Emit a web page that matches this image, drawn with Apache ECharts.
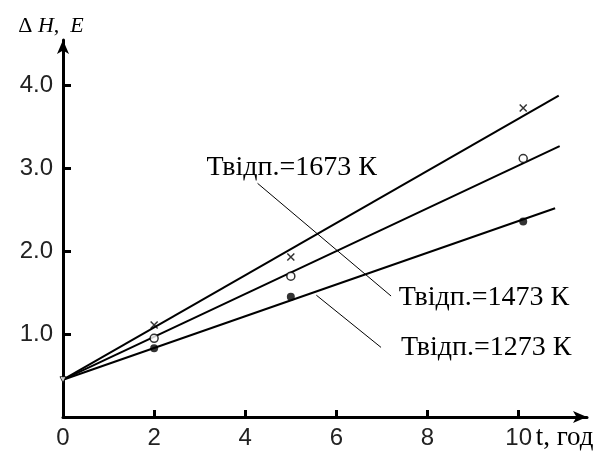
<!DOCTYPE html>
<html><head><meta charset="utf-8">
<script src="https://cdn.jsdelivr.net/npm/echarts@6/dist/echarts.min.js"></script>
<style>html,body{margin:0;padding:0;background:#fff}#c{width:609px;height:451px}</style>
</head><body><div id="c"></div>
<script>
// measured points
var tPoints = [2, 5, 10.1];
var h1673 = [1.11, 1.93, 3.73];
var h1473 = [0.95, 1.70, 3.12];
var h1273 = [0.83, 1.45, 2.36];
var origin = [0, 0.45];
// fitted line end points
var fit1673 = [[0, 0.45], [10.88, 3.88]];
var fit1473 = [[0, 0.45], [10.9, 3.27]];
var fit1273 = [[0, 0.45], [10.8, 2.52]];
// tick labels
var xTicks = [0, 2, 4, 6, 8, 10];
var yTicks = [1, 2, 3, 4];
// annotations (data coords)
var labels = [
  {text: 'Твідп.=1673 К', at: [3.15, 3.0]},
  {text: 'Твідп.=1473 К', at: [7.37, 1.43]},
  {text: 'Твідп.=1273 К', at: [7.42, 0.83]}
];
var leaders = [
  [[4.27, 2.82], [7.2, 1.46]],
  [[5.56, 1.47], [6.98, 0.84]]
];

function pts(xs, ys){ return xs.map(function(x,i){return [x, ys[i]];}); }

var chart = echarts.init(document.getElementById('c'), null, {renderer:'canvas'});
var axisStyle = {color:'#000', width:3};
var option = {
  animation:false,
  grid:{left:63, right:22, top:40, bottom:34, containLabel:false},
  xAxis:{
    type:'value', min:0, max:11.5, interval:2,
    axisLine:{show:true, lineStyle:axisStyle, symbol:['none','arrow'], symbolSize:[9,14]},
    axisTick:{show:true, inside:true, length:7, lineStyle:{color:'#000', width:3}, customValues:[2,4,6,8,10]},
    axisLabel:{customValues:xTicks, margin:9, color:'#222', fontFamily:'Liberation Sans', fontSize:24},
    splitLine:{show:false}
  },
  yAxis:{
    type:'value', min:0, max:4.55, interval:1,
    axisLine:{show:true, lineStyle:axisStyle, symbol:['none','arrow'], symbolSize:[9,14]},
    axisTick:{show:true, inside:true, length:8, lineStyle:{color:'#000', width:3}, customValues:yTicks},
    axisLabel:{customValues:yTicks, margin:10, color:'#222', fontFamily:'Liberation Sans', fontSize:24,
      formatter:function(v){return v.toFixed(1);}},
    splitLine:{show:false},
    name:'{d|Δ }{i|H}{d|,  }{i|E}', nameLocation:'end', nameGap:3,
    nameTextStyle:{padding:[0,24,0,0], rich:{
      d:{fontFamily:'Liberation Serif', fontSize:22, color:'#000'},
      i:{fontFamily:'Liberation Serif', fontStyle:'italic', fontSize:22, color:'#000'}}}
  },
  series:[
    {type:'line', data:fit1673, symbol:'none', lineStyle:{color:'#000', width:2}, z:2},
    {type:'line', data:fit1473, symbol:'none', lineStyle:{color:'#000', width:2}, z:2},
    {type:'line', data:fit1273, symbol:'none', lineStyle:{color:'#000', width:2}, z:2},
    {type:'scatter', data:pts(tPoints,h1673), symbol:'path://M0,0L10,10M10,0L0,10', symbolSize:7,
      itemStyle:{color:'none', borderColor:'#000', borderWidth:1.5}, z:3},
    {type:'scatter', data:pts(tPoints,h1473), symbol:'circle', symbolSize:8,
      itemStyle:{color:'#fff', borderColor:'#000', borderWidth:1.5}, z:3},
    {type:'scatter', data:pts(tPoints,h1273), symbol:'circle', symbolSize:8,
      itemStyle:{color:'#000'}, z:3},
    {type:'scatter', data:[origin], symbol:'triangle', symbolRotate:180, symbolSize:6,
      itemStyle:{color:'#fff', borderColor:'#000', borderWidth:1}, z:3}
  ]
};
chart.setOption(option);

var g = [];
labels.forEach(function(l){
  var p = chart.convertToPixel({gridIndex:0}, l.at);
  g.push({type:'text', left:p[0], top:p[1]-15, style:{text:l.text, fontFamily:'Liberation Serif', fontSize:28, fill:'#000'}});
});
leaders.forEach(function(s){
  var a = chart.convertToPixel({gridIndex:0}, s[0]);
  var b = chart.convertToPixel({gridIndex:0}, s[1]);
  g.push({type:'line', shape:{x1:a[0], y1:a[1], x2:b[0], y2:b[1]}, style:{stroke:'#000', lineWidth:1}});
});
var p10 = chart.convertToPixel({gridIndex:0}, [10, 0]);
g.push({type:'text', left:p10[0]+17, top:p10[1]+7, style:{text:'t, год', fontFamily:'Liberation Serif', fontSize:27, fill:'#000'}});
chart.setOption({graphic:g});
</script></body></html>
